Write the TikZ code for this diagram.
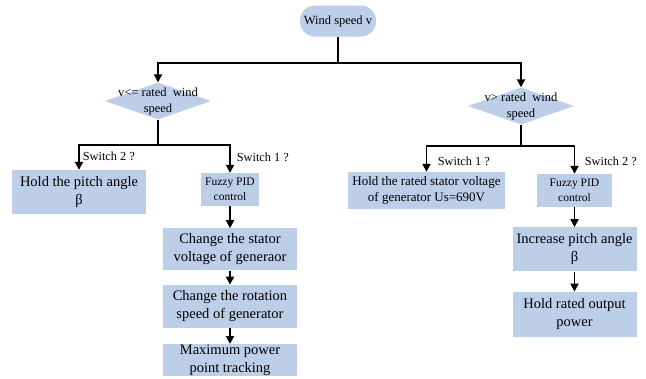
\documentclass[tikz,border=0pt]{standalone}
\usepackage{fontspec}
\setmainfont{Liberation Serif}
\usepackage{xcolor}
\usetikzlibrary{positioning, shapes.geometric, arrows.meta}
\definecolor{boxblue}{RGB}{188,206,232}

\begin{document}
\begin{tikzpicture}[x=1pt, y=-1pt,
	box/.style={fill=boxblue, inner sep=0pt, align=center, font=\fontsize{14.5}{18}\selectfont},
	smallbox/.style={box, font=\fontsize{11.5}{15.5}\selectfont},
	decision/.style={diamond, fill=boxblue, inner sep=0pt, minimum width=106pt, minimum height=37pt},
	dtext/.style={align=center, inner sep=0pt, font=\fontsize{12.5}{16}\selectfont},
	wire/.style={line width=1.8pt, line join=miter},
	flow/.style={wire, -{Triangle[width=8pt,length=8pt]}},
	sw/.style={font=\fontsize{12.3}{14}\selectfont, anchor=west, inner sep=0pt}]
				\useasboundingbox (0,0) rectangle (646,378);
				
				\node[box, rounded corners=15pt, minimum width=76pt, minimum height=31pt,
					font=\fontsize{12.5}{15}\selectfont] (wind) at (338,21) {Wind speed v};
				
				\node[decision, label={[dtext]center:{v<= rated\ \ wind\\speed}}] (dl) at (158,101) {};
				\node[decision, label={[dtext]center:{v> rated\ \ wind\\speed}}] (dr) at (521,106) {};
				
				% left branch
				\node[box, minimum width=134pt, minimum height=44pt] (hold) at (79,192) {Hold the pitch angle\\β};
				\node[smallbox, minimum width=58pt, minimum height=33pt] (fuzzyl) at (230,189.5) {Fuzzy PID\\control};
				\node[box, minimum width=134pt, minimum height=42pt, below=22pt of fuzzyl] (chg1) {Change the stator\\voltage of generaor};
				\node[box, minimum width=134pt, minimum height=43pt, below=14pt of chg1] (chg2) {Change the rotation\\speed of generator};
				\node[box, minimum width=134pt, minimum height=32pt, below=16pt of chg2] (mppt) {Maximum power\\point tracking};
				
				% right branch
				\node[box, minimum width=157pt, minimum height=37pt, font=\fontsize{13}{16}\selectfont] (holdv) at (426.5,190.5) {Hold the rated stator voltage\\of generator Us=690V};
				\node[smallbox, minimum width=75pt, minimum height=33pt] (fuzzyr) at (574.5,190.5) {Fuzzy PID\\control};
				\node[box, minimum width=124pt, minimum height=44pt, below=20pt of fuzzyr] (incr) {Increase pitch angle\\β};
				\node[box, minimum width=124pt, minimum height=45pt, below=20pt of incr] (holdp) {Hold rated output\\power};
				
				\coordinate (j0) at (338,63);
				\coordinate (j1) at (158,145);
				\coordinate (j2) at (521,146);
				
				\draw[wire] (wind) -- (j0);
				\draw[flow] (j0) -| (dl);
				\draw[flow] (j0) -| (dr);
				
				\draw[wire] (dl) -- (j1);
				\draw[flow] (j1) -| node[sw, pos=0.72, xshift=3pt] {Switch 2 ?} (hold);
				\draw[flow] (j1) -| node[sw, pos=0.73, xshift=6pt] {Switch 1 ?} (fuzzyl);
				\draw[flow] (fuzzyl) -- (chg1);
				\draw[flow] (chg1) -- (chg2);
				\draw[flow] (chg2) -- (mppt);
				
				\draw[wire] (dr) -- (j2);
				\draw[flow] (j2) -| node[sw, pos=0.79, xshift=10.5pt] {Switch 1 ?} (holdv);
				\draw[flow] (j2) -| node[sw, pos=0.77, xshift=9.5pt] {Switch 2 ?} (fuzzyr);
				\draw[flow] (fuzzyr) -- (incr);
				\draw[flow] (incr) -- (holdp);
\end{tikzpicture}
\end{document}
